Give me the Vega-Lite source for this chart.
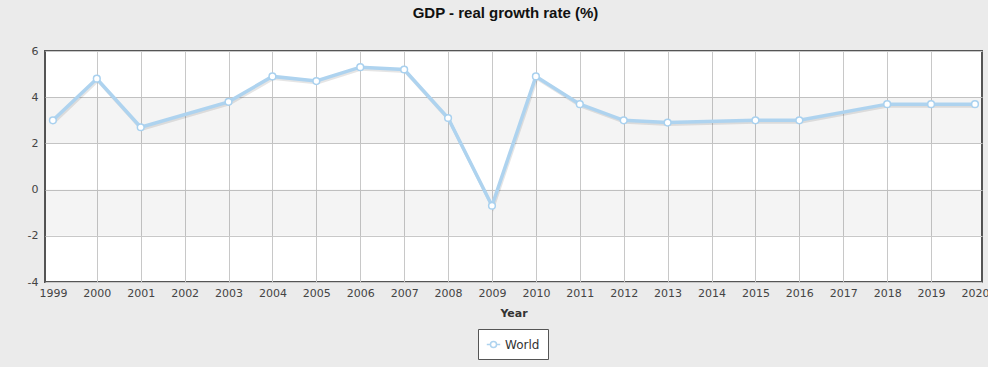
{
  "$schema": "https://vega.github.io/schema/vega-lite/v6.json",
  "autosize": {"type": "none"},
  "width": 937,
  "height": 231,
  "padding": {"left": 45, "top": 51, "right": 6, "bottom": 85},
  "background": "#ebebeb",
  "title": {"text": "GDP - real growth rate (%)", "font": "Liberation Sans", "fontSize": 15, "fontWeight": "bold", "color": "#111111", "offset": 24, "dx": -8},
  "config": {"view": {"stroke": "#555555", "strokeWidth": 2, "fill": "white"}},
  "datasets": {
    "bands": [
      {"from": 2, "to": 4},
      {"from": -2, "to": 0}
    ],
    "gdp": [
      {"year": 1999, "growth": 3.0, "series": "World"},
      {"year": 2000, "growth": 4.8, "series": "World"},
      {"year": 2001, "growth": 2.7, "series": "World"},
      {"year": 2003, "growth": 3.8, "series": "World"},
      {"year": 2004, "growth": 4.9, "series": "World"},
      {"year": 2005, "growth": 4.7, "series": "World"},
      {"year": 2006, "growth": 5.3, "series": "World"},
      {"year": 2007, "growth": 5.2, "series": "World"},
      {"year": 2008, "growth": 3.1, "series": "World"},
      {"year": 2009, "growth": -0.7, "series": "World"},
      {"year": 2010, "growth": 4.9, "series": "World"},
      {"year": 2011, "growth": 3.7, "series": "World"},
      {"year": 2012, "growth": 3.0, "series": "World"},
      {"year": 2013, "growth": 2.9, "series": "World"},
      {"year": 2015, "growth": 3.0, "series": "World"},
      {"year": 2016, "growth": 3.0, "series": "World"},
      {"year": 2018, "growth": 3.7, "series": "World"},
      {"year": 2019, "growth": 3.7, "series": "World"},
      {"year": 2020, "growth": 3.7, "series": "World"}
    ]
  },
  "layer": [
    {
      "data": {"name": "bands"},
      "mark": {"type": "rect", "color": "#000000", "opacity": 0.045},
      "encoding": {
        "y": {"field": "from", "type": "quantitative", "scale": {"domain": [-4, 6], "nice": false}},
        "y2": {"field": "to"}
      }
    },
    {
      "data": {"name": "gdp"},
      "mark": {"type": "line", "color": "#000000", "opacity": 0.1, "strokeWidth": 3, "xOffset": 1, "yOffset": 2},
      "encoding": {
        "x": {"field": "year", "type": "quantitative", "scale": {"domain": [1998.82, 2020.16], "nice": false, "zero": false}},
        "y": {"field": "growth", "type": "quantitative", "scale": {"domain": [-4, 6], "nice": false}}
      }
    },
    {
      "data": {"name": "gdp"},
      "mark": {"type": "line", "strokeWidth": 3.5},
      "encoding": {
        "x": {
          "field": "year", "type": "quantitative",
          "scale": {"domain": [1998.82, 2020.16], "nice": false, "zero": false},
          "axis": {
            "values": [1999, 2000, 2001, 2002, 2003, 2004, 2005, 2006, 2007, 2008, 2009, 2010, 2011, 2012, 2013, 2014, 2015, 2016, 2017, 2018, 2019, 2020],
            "format": "d", "grid": true, "gridColor": "#c8c8c8", "gridWidth": 1,
            "gridOpacity": {"condition": {"test": "datum.value == 1999 || datum.value == 2020", "value": 0}, "value": 1},
            "ticks": false, "domain": false,
            "labelFont": "DejaVu Sans", "labelFontSize": 11, "labelColor": "#444444", "labelPadding": 5,
            "labelOverlap": false, "labelFlush": false,
            "title": "Year", "titleFont": "DejaVu Sans", "titleFontSize": 11, "titleFontWeight": "bold", "titleColor": "#333333", "titlePadding": 9
          }
        },
        "y": {
          "field": "growth", "type": "quantitative",
          "scale": {"domain": [-4, 6], "nice": false},
          "axis": {
            "values": [-4, -2, 0, 2, 4, 6], "grid": true, "gridColor": "#c8c8c8", "ticks": false, "domain": false,
            "labelExpr": "'' + datum.value",
            "labelFont": "DejaVu Sans", "labelFontSize": 11, "labelColor": "#444444", "labelPadding": 7, "title": null
          }
        },
        "color": {
          "field": "series", "type": "nominal",
          "scale": {"domain": ["World"], "range": ["#aed3ef"]},
          "legend": {
            "orient": "none", "legendX": 433, "legendY": 278, "title": null,
            "fillColor": "white", "strokeColor": "#555555", "padding": 8,
            "labelFont": "DejaVu Sans", "labelFontSize": 12, "labelColor": "#333333",
            "symbolType": "M -1 0 L -0.45 0 M 0.45 0 L 1 0 M -0.45 0 A 0.45 0.45 0 1 0 0.45 0 A 0.45 0.45 0 1 0 -0.45 0",
            "symbolSize": 180, "symbolStrokeWidth": 1.5, "symbolFillColor": "white", "symbolStrokeColor": "#aed3ef"
          }
        }
      }
    },
    {
      "data": {"name": "gdp"},
      "mark": {"type": "point", "filled": true, "fill": "white", "stroke": "#a9d1ef", "strokeWidth": 1.5, "size": 45, "opacity": 1},
      "encoding": {
        "x": {"field": "year", "type": "quantitative"},
        "y": {"field": "growth", "type": "quantitative"}
      }
    }
  ]
}
